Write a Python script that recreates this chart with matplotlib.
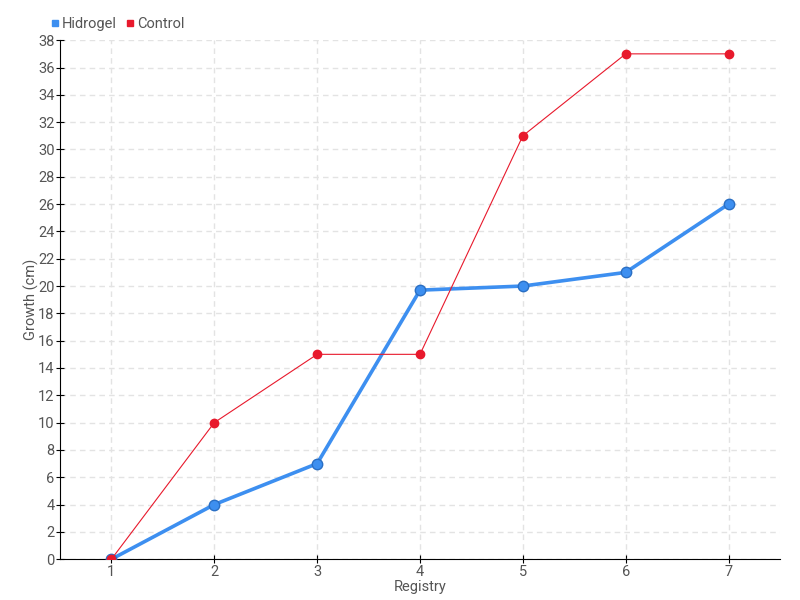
import numpy as np
import matplotlib
matplotlib.use('Agg')
import matplotlib.pyplot as plt
from matplotlib.lines import Line2D

plt.rcParams['font.family'] = ['Roboto', 'DejaVu Sans']

registry = [1, 2, 3, 4, 5, 6, 7]
hidrogel = [0, 4, 7, 19.7, 20, 21, 26]
control = [0, 10, 15, 15, 31, 37, 37]

blue = '#3d8ff0'
red = '#e8192c'
text_col = '#555555'

fig = plt.figure(figsize=(8, 6), dpi=100)
ax = fig.add_axes([0.075, 0.068, 0.9, 0.865])

ax.plot(registry, hidrogel, color=blue, lw=2.6, marker='o', ms=7.5,
        mfc=blue, mec='#2a6fc4', mew=1, zorder=3)
ax.plot(registry, control, color=red, lw=0.8, marker='o', ms=6,
        mfc=red, mec=red, zorder=4)

ax.set_xlim(0.5, 7.5)
ax.set_ylim(0, 38)
ax.set_xticks(registry)
ax.set_yticks(np.arange(0, 39, 2))
ax.grid(True, color='#e3e3e3', ls=(0, (4, 3)), lw=1)
ax.set_axisbelow(True)
for s in ['top', 'right']:
    ax.spines[s].set_visible(False)
ax.tick_params(axis='both', direction='inout', length=6, colors='black',
               labelcolor=text_col, labelsize=10.5, pad=1)
ax.set_xlabel('Registry', color=text_col, fontsize=10.5, labelpad=1)
ax.set_ylabel('Growth (cm)', color=text_col, fontsize=10.5, labelpad=-1)

handles = [Line2D([], [], ls='', marker='s', ms=4, color=blue),
           Line2D([], [], ls='', marker='s', ms=4, color=red)]
fig.legend(handles, ['Hidrogel', 'Control'], loc='upper left',
           bbox_to_anchor=(0.043, 0.993), ncol=2, frameon=False,
           handletextpad=0.0, columnspacing=0.4, fontsize=10.5,
           labelcolor=text_col, handlelength=1)

fig.savefig('out.png', dpi=100)
